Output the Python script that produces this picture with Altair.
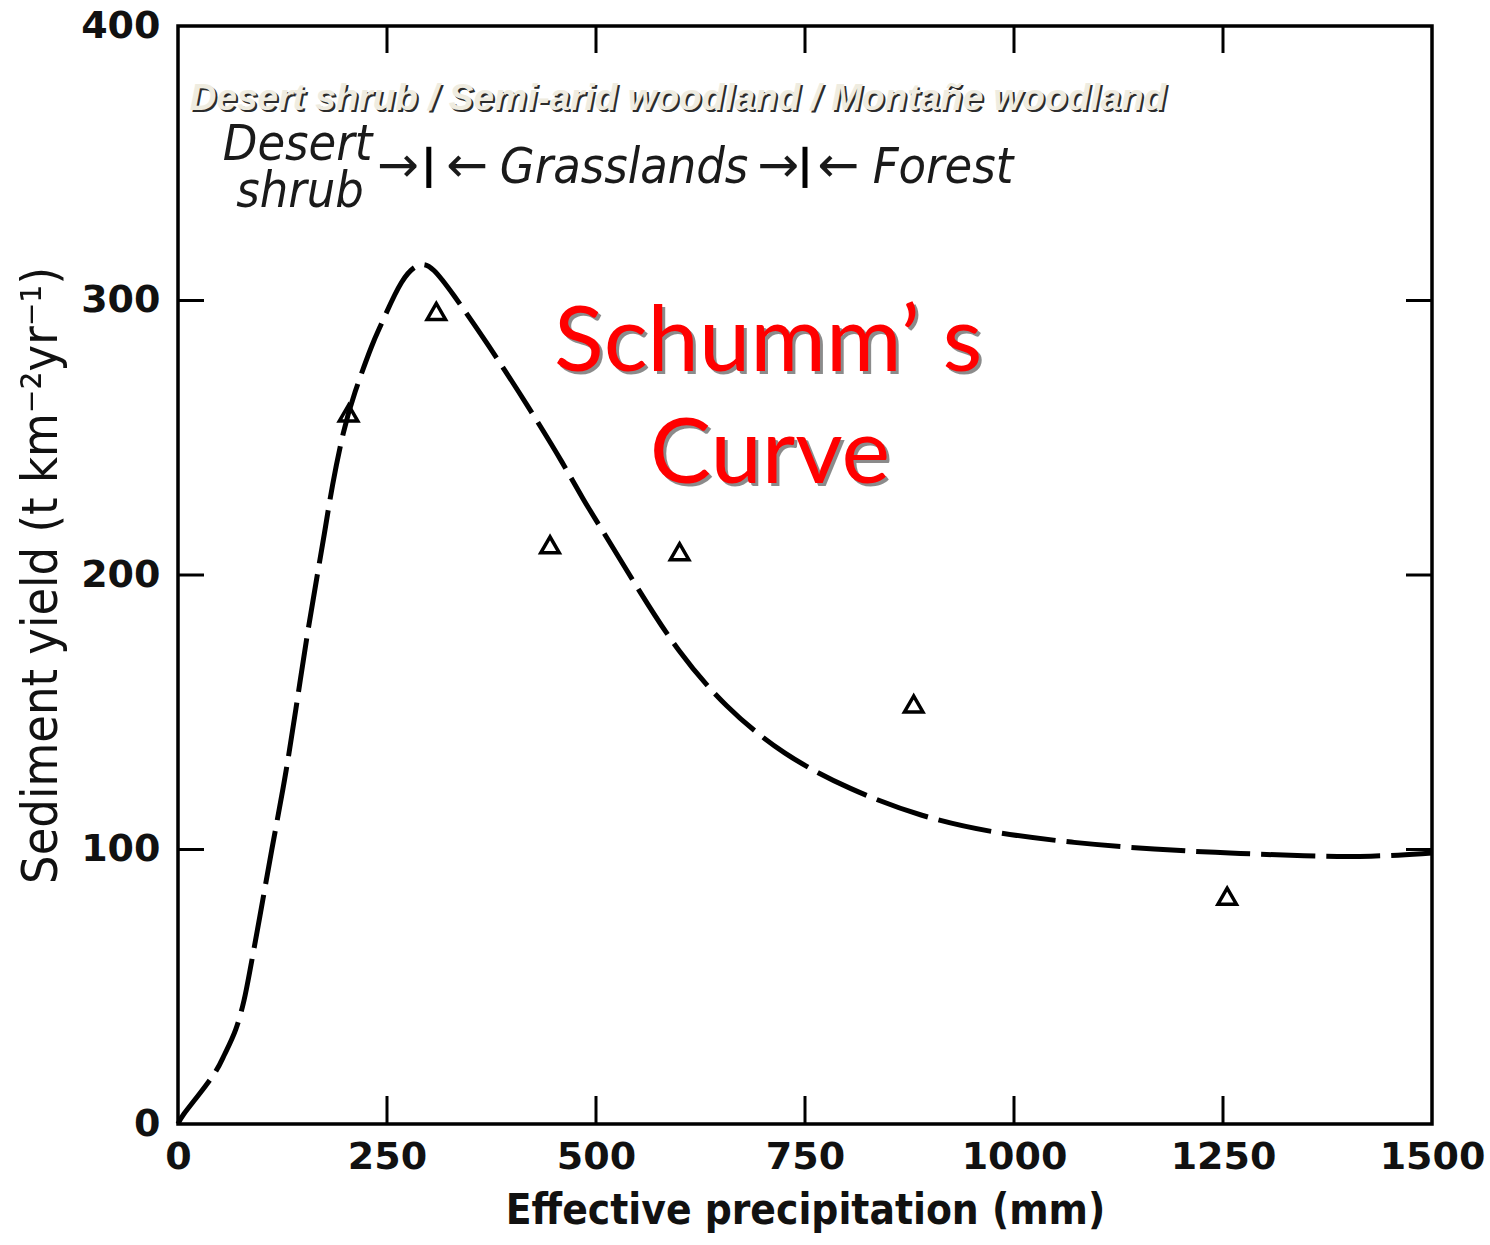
import altair as alt
import pandas as pd

# ---- data ----
curve_x = [0, 4, 26, 48, 54, 70, 80, 84, 98, 112, 128, 141, 154, 168, 176, 184, 198, 210, 234,
           242, 268, 290, 305, 327, 371, 419, 463, 485, 505, 551, 598, 654, 724, 804, 890, 975,
           1072, 1169, 1258, 1349, 1428, 1500]
curve_y = [0, 2.7, 11, 20, 24.5, 34, 46, 52.5, 75.5, 100, 125.5, 151, 177.5, 202.5, 216.5, 232,
           253, 265.6, 285.6, 290.4, 308.7, 314.2, 312, 303.3, 284, 261.4, 239.5, 227.3, 217.6,
           194.5, 172, 152, 134.4, 121.7, 111.8, 106, 102.4, 100, 98.7, 97.6, 97.3, 98.7]

obs_x = [204, 309, 445, 600, 880, 1255]
obs_y = [259, 296, 211, 208.5, 153, 83]

x_ticks = [250, 500, 750, 1000, 1250]
y_ticks = [100, 200, 300]
x_labels = [0, 250, 500, 750, 1000, 1250, 1500]
y_labels = [0, 100, 200, 300, 400]

zone_bounds = [300, 750]

W, H = 1254, 1098
xs = alt.Scale(domain=[0, 1500], nice=False, zero=False)
ys = alt.Scale(domain=[0, 400], nice=False, zero=False)

AXF = "DejaVu Sans"
TF = "DejaVu Sans Condensed"
XT = "Effective precipitation (mm)"
YT = "Sediment yield (t km⁻²yr⁻¹)"

X_AX = alt.Axis(
    values=x_labels, format="d", ticks=False, domain=False, grid=False, labelFont=AXF,
    labelFontSize=38, labelFontWeight="bold", labelPadding=14, labelColor="#111",
    labelFlush=False, title=XT, titleFont=TF,
    titleFontSize=42, titleFontWeight="bold", titlePadding=14, titleColor="#111")
Y_AX = alt.Axis(
    values=y_labels, format="d", ticks=False, domain=False, grid=False, labelFont=AXF,
    labelFontSize=38, labelFontWeight="bold", labelPadding=18, labelColor="#111",
    labelFlush=False, title=YT, titleFont=TF,
    titleFontSize=50, titleFontWeight="normal", titlePadding=14, titleColor="#111")


def X(f):
    return alt.X(f, scale=xs, axis=X_AX, title=XT)


def Y(f):
    return alt.Y(f, scale=ys, axis=Y_AX, title=YT)


curve_df = pd.DataFrame({"x": curve_x, "y": curve_y})
obs_df = pd.DataFrame({"x": obs_x, "y": obs_y})

curve = alt.Chart(curve_df).mark_line(
    color="black", strokeWidth=5, strokeDash=[54, 11], interpolate="basis"
).encode(x=X("x:Q"), y=Y("y:Q"))

pts = alt.Chart(obs_df).mark_point(
    shape="triangle-up", filled=False, color="black", strokeWidth=3.5, size=340, opacity=1
).encode(x=X("x:Q"), y=Y("y:Q"))

xt = pd.DataFrame({"x": x_ticks})
yt = pd.DataFrame({"y": y_ticks})
tick_style = dict(color="black", strokeWidth=3)
bot = alt.Chart(xt).mark_rule(**tick_style).encode(
    x=X("x:Q"), y=alt.value(H), y2=alt.value(H - 28))
top = alt.Chart(xt).mark_rule(**tick_style).encode(
    x=X("x:Q"), y=alt.value(0), y2=alt.value(27))
left = alt.Chart(yt).mark_rule(**tick_style).encode(
    y=Y("y:Q"), x=alt.value(0), x2=alt.value(26))
right = alt.Chart(yt).mark_rule(**tick_style).encode(
    y=Y("y:Q"), x=alt.value(W), x2=alt.value(W - 26))

bars = alt.Chart(pd.DataFrame({"x": zone_bounds, "y": [341, 341], "y2": [356, 356]})).mark_rule(
    color="black", strokeWidth=5
).encode(x=X("x:Q"), y=Y("y:Q"), y2="y2:Q")

# vegetation zone labels
word_text = ["Desert", "shrub", "Grasslands", "Forest"]
word_x = [143, 146, 385, 831]
word_y = [356.5, 339.5, 348.3, 348.3]
word_align = ["center", "center", "left", "left"]
wdf = pd.DataFrame({"t": word_text, "x": word_x, "y": word_y, "a": word_align})
zone_layers = []
for al in ["center", "left"]:
    zone_layers.append(
        alt.Chart(wdf[wdf.a == al]).mark_text(
            font=TF, fontSize=50, fontStyle="italic", align=al, baseline="middle", color="#1a1a1a"
        ).encode(x=X("x:Q"), y=Y("y:Q"), text="t:N")
    )

arrow_text = ["→", "←", "→", "←"]
arrow_x = [263, 346, 718, 790]
arrow_y = [348.5, 348.5, 348.5, 348.5]
adf = pd.DataFrame({"t": arrow_text, "x": arrow_x, "y": arrow_y})
arrows = alt.Chart(adf).mark_text(
    font="DejaVu Sans", fontSize=50, align="center", baseline="middle", color="#1a1a1a"
).encode(x=X("x:Q"), y=Y("y:Q"), text="t:N")

# top caption with shadow
cap_text = ["Desert shrub / Semi-arid woodland / Montañe woodland"]
cap_df = pd.DataFrame({"t": cap_text, "x": [14], "y": [373.4]})
cap_style = dict(font="Liberation Sans", fontSize=37, fontStyle="italic", fontWeight="bold",
                 align="left", baseline="middle")
cap_shadow = alt.Chart(cap_df).mark_text(color="#2b2b2b", dx=2, dy=2, **cap_style).encode(
    x=X("x:Q"), y=Y("y:Q"), text="t:N")
cap = alt.Chart(cap_df).mark_text(color="#efece0", **cap_style).encode(
    x=X("x:Q"), y=Y("y:Q"), text="t:N")

# red title
red_text = ["Schumm’ s", "Curve"]
red_df = pd.DataFrame({"t": red_text, "x": [706, 708], "y": [284.5, 243.7]})
red_style = dict(font="Lato", fontSize=92, align="center", baseline="middle")
red_shadow = alt.Chart(red_df).mark_text(color="#000", opacity=0.45, dx=3, dy=3, **red_style).encode(
    x=X("x:Q"), y=Y("y:Q"), text="t:N")
red = alt.Chart(red_df).mark_text(color="#ff0000", **red_style).encode(
    x=X("x:Q"), y=Y("y:Q"), text="t:N")

chart = alt.layer(
    curve, pts, bot, top, left, right, bars, *zone_layers, arrows, cap_shadow, cap, red_shadow, red
).properties(
    width=W, height=H,
    autosize=alt.AutoSizeParams(type="none"),
    padding={"left": 178, "top": 26, "right": 58, "bottom": 121},
    background="white",
).configure_view(stroke="black", strokeWidth=3.5)

chart.save("out.html", embed_options={"renderer": "svg", "actions": False})
